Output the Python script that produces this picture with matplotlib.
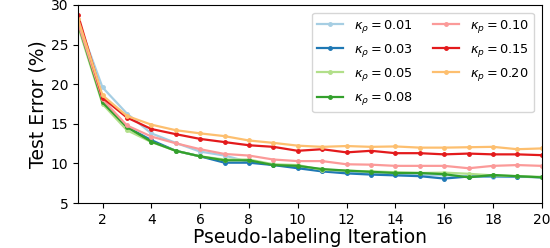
import numpy as np
import matplotlib
matplotlib.use("Agg")
import matplotlib.pyplot as plt

iters = np.arange(1, 21)

k01 = [28.0, 19.6, 16.3, 13.8, 12.6, 11.5, 11.0, 10.2, 9.9, 9.5, 9.1, 8.9, 8.8, 8.7, 8.6, 8.5, 8.4, 8.3, 8.3, 8.3]
k03 = [27.8, 17.8, 14.6, 12.95, 11.6, 10.9, 10.1, 10.1, 9.8, 9.4, 9.0, 8.75, 8.6, 8.5, 8.4, 8.1, 8.35, 8.4, 8.35, 8.25]
k05 = [27.3, 17.5, 14.2, 12.7, 11.6, 10.9, 10.5, 10.5, 9.9, 9.8, 9.2, 9.1, 9.0, 8.9, 8.8, 8.85, 8.7, 8.5, 8.4, 8.3]
k08 = [27.6, 17.7, 14.6, 12.75, 11.6, 10.9, 10.4, 10.4, 9.8, 9.7, 9.3, 9.1, 8.95, 8.8, 8.8, 8.65, 8.25, 8.55, 8.4, 8.25]
k10 = [27.7, 18.1, 14.8, 13.4, 12.55, 11.8, 11.2, 11.0, 10.5, 10.3, 10.3, 9.9, 9.85, 9.7, 9.7, 9.7, 9.4, 9.7, 9.8, 9.7]
k15 = [28.7, 18.3, 15.8, 14.35, 13.7, 13.1, 12.7, 12.3, 12.1, 11.6, 11.8, 11.4, 11.6, 11.3, 11.3, 11.15, 11.25, 11.15, 11.15, 11.05]
k20 = [28.2, 18.6, 16.0, 14.9, 14.2, 13.8, 13.45, 12.9, 12.6, 12.25, 12.1, 12.2, 12.1, 12.15, 12.0, 12.0, 12.05, 12.1, 11.8, 11.9]

series = [k01, k03, k05, k08, k10, k15, k20]
labels = [r"$\kappa_\rho = 0.01$", r"$\kappa_\rho = 0.03$", r"$\kappa_\rho = 0.05$", r"$\kappa_\rho = 0.08$",
          r"$\kappa_p = 0.10$", r"$\kappa_p = 0.15$", r"$\kappa_p = 0.20$"]
colors = ["#a6cee3", "#1f78b4", "#b2df8a", "#33a02c", "#fb9a99", "#e31a1c", "#fdbf6f"]

fig = plt.figure(figsize=(5.5, 2.48), dpi=100)
ax = fig.add_axes([0.142, 0.181, 0.843, 0.799])

for vals, lab, c in zip(series, labels, colors):
    ax.plot(iters, vals, color=c, label=lab, marker="o", markersize=2.5, linewidth=1.6)

ax.set_xlim(1, 20)
ax.set_ylim(5, 30)
ax.set_xticks(np.arange(2, 21, 2))
ax.set_yticks(np.arange(5, 31, 5))
ax.tick_params(labelsize=10)
ax.set_xlabel("Pseudo-labeling Iteration", fontsize=13.5, labelpad=1)
ax.set_ylabel("Test Error (%)", fontsize=13.5, labelpad=2)
ax.legend(ncol=2, loc="upper right", fontsize=9.3, columnspacing=1.6,
          handlelength=2.0, labelspacing=0.55, borderaxespad=0.6)

fig.savefig("out.png", dpi=100)
